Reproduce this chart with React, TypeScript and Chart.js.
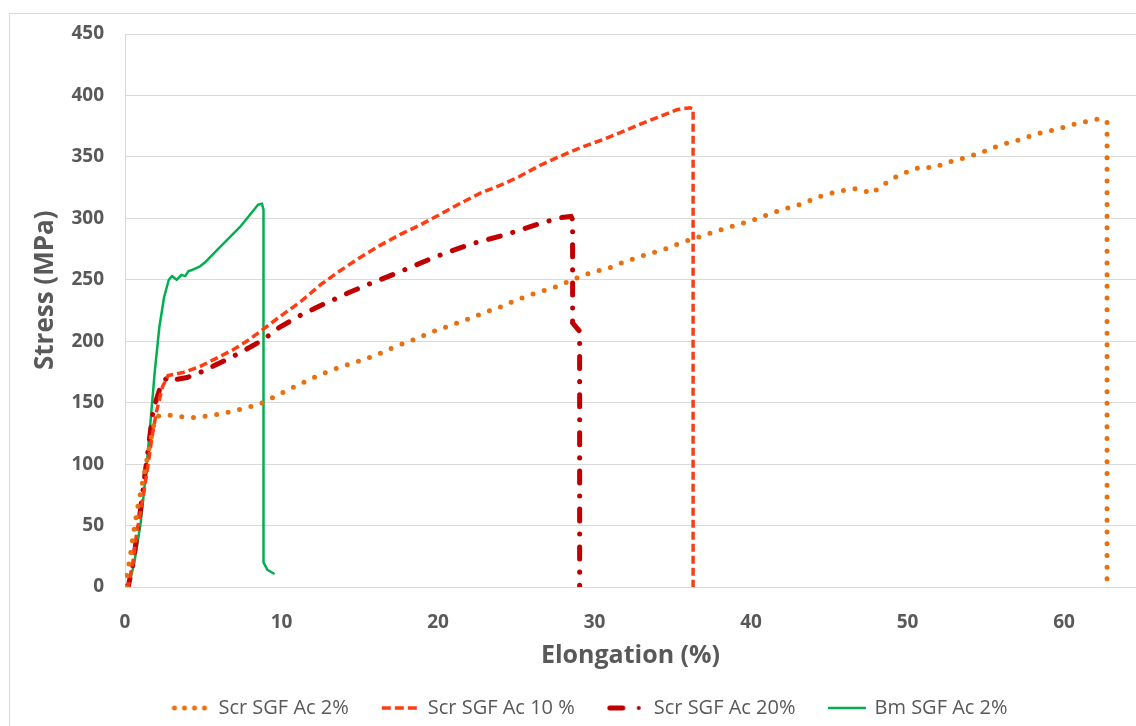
import React, { useEffect, useRef } from "react";
import { Chart, registerables } from "chart.js";

Chart.register(...registerables);

// Scr SGF Ac 2%
const ac2X = [0, 0.1, 0.3, 0.5, 0.8, 1.15, 1.5, 1.8, 2.05, 2.7, 3.3, 3.9, 4.5, 5.1, 5.75, 6.9, 8.1, 8.8, 9.9, 11, 12, 13, 14, 15, 16.1, 17.25, 18.4, 19.5, 20.6, 21.6, 22.9, 24, 25.2, 26.3, 27.6, 28.6, 29.7, 31, 32, 33.3, 34.4, 35.5, 36.7, 38.5, 40, 41.5, 42.5, 43.3, 44.3, 45.5, 46.6, 47.2, 47.7, 48.3, 49.3, 50.4, 51, 51.6, 52.7, 53.9, 54.9, 56, 57.2, 58.3, 59.5, 60.6, 61.7, 62.3, 62.75, 62.75];
const ac2Y = [0, 8, 22, 40, 64, 87, 110, 130, 139, 140, 139, 138, 138, 139, 140, 143, 147, 150, 157, 164, 170, 175.5, 180, 184, 189, 195.5, 201, 207, 212, 216.5, 223, 228, 234.5, 239.5, 244.5, 250, 255.5, 260, 265, 270.5, 274.5, 280, 285, 292.5, 298, 305, 309, 312, 317.5, 321.8, 324.2, 322.6, 320, 326, 334, 340, 342, 341, 346, 350, 354.5, 360, 364, 369, 372.3, 376.4, 379.6, 381.2, 378.6, 0];

// Scr SGF Ac 10 %
const ac10X = [0, 0.2, 0.5, 0.75, 1.1, 1.4, 1.7, 2.0, 2.4, 2.75, 3.7, 4.8, 5.9, 6.9, 7.9, 8.8, 9.9, 11.2, 12.5, 13.7, 15, 16.3, 17.6, 18.85, 20.1, 21.4, 22.7, 24, 25.2, 26.5, 27.8, 29.1, 30.4, 31.6, 32.9, 34.2, 35.3, 36.1, 36.3, 36.3];
const ac10Y = [0, 0, 20, 44, 69, 93, 120, 142, 163, 172, 174.5, 179.5, 186.5, 193, 201, 209.5, 220, 232, 246, 257, 268, 278, 287, 294.5, 303, 312, 320.5, 327, 334, 343, 350.5, 357.5, 363.5, 369.5, 376.5, 383, 388.5, 390, 389, 0];

// Scr SGF Ac 20%
const ac20X = [0, 0.2, 0.5, 0.96, 1.4, 1.8, 2.24, 2.7, 3.3, 3.96, 4.8, 5.6, 6.5, 7.5, 8.8, 9.9, 11.2, 12.5, 14.2, 15.5, 17.6, 19.7, 22, 24.4, 26.7, 27.9, 28.5, 28.6, 28.6, 29.05, 29.05];
const ac20Y = [0, 0, 18, 60, 104, 144, 162, 171, 169, 170.5, 174.6, 179.5, 185, 191.6, 201, 211.5, 221, 229, 239, 246, 256.7, 268, 278.7, 287, 296.6, 300.6, 301.5, 299, 215, 208, 0];

// Bm SGF Ac 2%
const bmX = [0, 0.3, 0.6, 1.0, 1.3, 1.6, 1.9, 2.2, 2.5, 2.8, 3.0, 3.3, 3.6, 3.85, 4.05, 4.3, 4.8, 5.1, 6.1, 7.35, 8.5, 8.75, 8.85, 8.85, 9.1, 9.5];
const bmY = [0, 4, 20, 52, 88, 130, 175, 212, 236, 250, 253, 250, 254, 253, 257, 258, 261, 264, 277, 293, 311, 312, 307, 20, 14, 11];

const seriesNames = ["Scr SGF Ac 2%", "Scr SGF Ac 10 %", "Scr SGF Ac 20%", "Bm SGF Ac 2%"];
const xTitle = "Elongation (%)";
const yTitle = "Stress (MPa)";
const yMax = 450;
const yStep = 50;
const xStep = 10;
const xMax = 64.6;

const ORANGE = "#e8700f";
const RED = "#ff3d12";
const DARKRED = "#c00000";
const GREEN = "#00b050";

const pts = (xs: number[], ys: number[]) => xs.map((x, i) => ({ x, y: ys[i] }));

function sample(kind: string): HTMLCanvasElement {
  const c = document.createElement("canvas");
  c.width = 38;
  c.height = 10;
  const g = c.getContext("2d")!;
  const cy = 5;
  if (kind === "dots") {
    g.fillStyle = ORANGE;
    [3, 13, 23, 33].forEach((x) => {
      g.beginPath();
      g.arc(x, cy, 2.5, 0, Math.PI * 2);
      g.fill();
    });
  } else if (kind === "dash") {
    g.fillStyle = RED;
    [0, 13, 26].forEach((x) => g.fillRect(x + 1, cy - 1.75, 9, 3.5));
  } else if (kind === "dashdot") {
    g.strokeStyle = DARKRED;
    g.lineWidth = 5;
    g.lineCap = "round";
    g.beginPath();
    g.moveTo(3, cy);
    g.lineTo(16, cy);
    g.stroke();
    g.fillStyle = DARKRED;
    g.beginPath();
    g.arc(32, cy, 2, 0, Math.PI * 2);
    g.fill();
  } else {
    g.strokeStyle = GREEN;
    g.lineWidth = 2.5;
    g.beginPath();
    g.moveTo(0, cy);
    g.lineTo(38, cy);
    g.stroke();
  }
  return c;
}

export default function App() {
  const ref = useRef<HTMLCanvasElement | null>(null);
  useEffect(() => {
    if (!ref.current) return;
    const grey = "#595959";
    const chart = new Chart(ref.current, {
      type: "line",
      data: {
        datasets: [
          {
            label: seriesNames[0],
            data: pts(ac2X, ac2Y),
            borderColor: ORANGE,
            backgroundColor: ORANGE,
            borderWidth: 5,
            borderDash: [0, 11.7],
            borderCapStyle: "round",
            borderJoinStyle: "round",
            pointRadius: 0,
            pointStyle: sample("dots"),
            tension: 0,
            fill: false,
          },
          {
            label: seriesNames[1],
            data: pts(ac10X, ac10Y),
            borderColor: RED,
            backgroundColor: RED,
            borderWidth: 3.5,
            borderDash: [8, 4],
            borderCapStyle: "butt",
            pointRadius: 0,
            pointStyle: sample("dash"),
            tension: 0,
            fill: false,
          },
          {
            label: seriesNames[2],
            data: pts(ac20X, ac20Y),
            borderColor: DARKRED,
            backgroundColor: DARKRED,
            borderWidth: 5,
            borderDash: [12, 13, 0.1, 13],
            borderCapStyle: "round",
            pointRadius: 0,
            pointStyle: sample("dashdot"),
            tension: 0,
            fill: false,
          },
          {
            label: seriesNames[3],
            data: pts(bmX, bmY),
            borderColor: GREEN,
            backgroundColor: GREEN,
            borderWidth: 2.5,
            borderCapStyle: "round",
            borderJoinStyle: "round",
            pointRadius: 0,
            pointStyle: sample("solid"),
            tension: 0,
            fill: false,
          },
        ],
      },
      options: {
        responsive: false,
        animation: false,
        layout: { padding: { top: 20, right: 34, left: 34, bottom: 6 } },
        plugins: {
          tooltip: { enabled: false },
          legend: {
            position: "bottom",
            labels: {
              usePointStyle: true,
              pointStyleWidth: 36,
              padding: 33,
              color: grey,
              font: { family: "'Open Sans', sans-serif", size: 20 },
            },
          },
        },
        scales: {
          x: {
            type: "linear",
            min: 0,
            max: xMax,
            grid: { display: false, drawTicks: false },
            border: { display: true, color: "#d9d9d9", width: 1 },
            ticks: {
              stepSize: xStep,
              includeBounds: false,
              padding: 24,
              color: grey,
              font: { family: "'Open Sans', sans-serif", size: 19, weight: "bold" },
            },
            title: {
              display: true,
              text: xTitle,
              color: grey,
              padding: { top: 0, bottom: -6 },
              font: { family: "'Open Sans', sans-serif", size: 25, weight: "bold" },
            },
            afterFit: (s: any) => {
              s.height = 78;
            },
          },
          y: {
            type: "linear",
            min: 0,
            max: yMax,
            grid: { color: "#d9d9d9", lineWidth: 1, drawTicks: true, tickLength: 21, tickColor: "rgba(0,0,0,0)" },
            border: { display: true, color: "#d9d9d9", width: 1 },
            ticks: {
              stepSize: yStep,
              padding: 0,
              color: grey,
              font: { family: "'Open Sans', sans-serif", size: 19, weight: "bold" },
            },
            title: {
              display: true,
              text: "      " + yTitle,
              color: grey,
              padding: { top: -14, bottom: 0 },
              font: { family: "'Open Sans', sans-serif", size: 26, weight: "bold" },
            },
            afterFit: (s: any) => {
              s.width = 81;
            },
          },
        },
      },
    } as any);
    return () => chart.destroy();
  }, []);

  return (
    <div style={{ position: "fixed", left: 0, top: 0, width: 1136, height: 726, overflow: "hidden", background: "#fff" }}>
      <div
        style={{
          position: "absolute",
          left: 9,
          top: 13,
          width: 1200,
          height: 760,
          border: "1px solid #d9d9d9",
          boxSizing: "border-box",
        }}
      />
      <div style={{ position: "absolute", left: 10, top: 14, width: 1160, height: 720 }}>
        <canvas ref={ref} width={1160} height={720} style={{ display: "block" }} />
      </div>
    </div>
  );
}
